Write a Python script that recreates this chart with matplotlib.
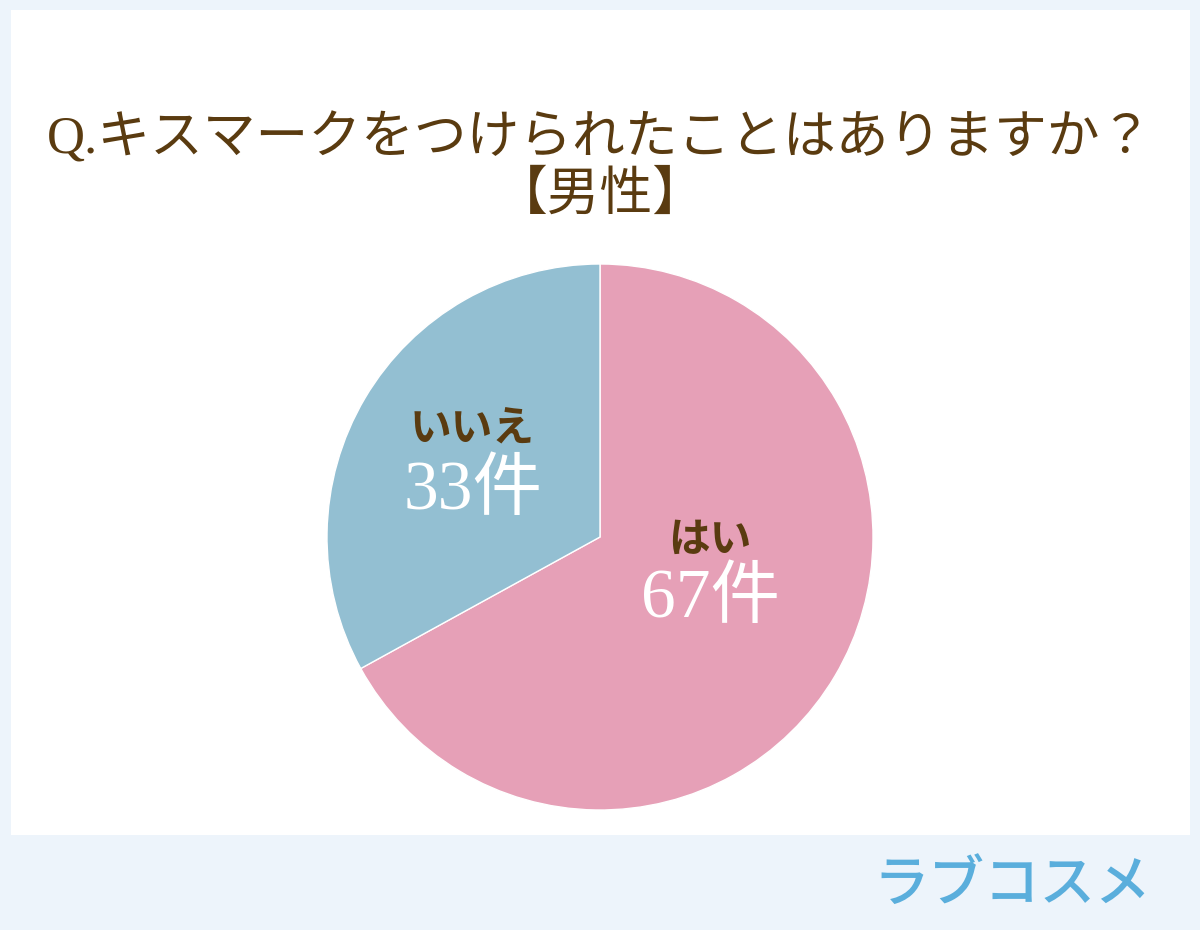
import matplotlib
matplotlib.use('Agg')
import matplotlib.pyplot as plt
from matplotlib.patches import Rectangle

# survey data
labels = ['はい', 'いいえ']
counts = [67, 33]
colors = ['#E6A0B7', '#93BFD2']
title = 'Q.キスマークをつけられたことはありますか？\n【男性】'

serif_jp = ['Liberation Serif', 'Noto Sans CJK JP']
brown = '#5A3B10'

fig = plt.figure(figsize=(12, 9.3), dpi=100)
fig.patch.set_facecolor('#EDF4FB')
fig.patches.append(Rectangle((11 / 1200, 1 - 835 / 930), 1179 / 1200, 825 / 930,
                             transform=fig.transFigure, facecolor='white',
                             edgecolor='none', zorder=-5))

fig.text(0.5, 1 - 167 / 930, title, ha='center', va='center', fontsize=38,
         color=brown, family=serif_jp, linespacing=1.2)

ax = fig.add_axes([(600 - 273) / 1200, (930 - 537 - 273) / 930, 546 / 1200, 546 / 930])
ax.set_zorder(2)
wedges, _ = ax.pie(counts, colors=colors, startangle=90, counterclock=False,
                   radius=1, wedgeprops=dict(edgecolor='white', linewidth=1))
ax.set_xlim(-1, 1)
ax.set_ylim(-1, 1)
ax.set_aspect('equal')
ax.axis('off')

# label positions (data coords inside each wedge)
label_pos = [(0.403, -0.011), (-0.469, 0.392)]
count_pos = [(0.403, -0.231), (-0.465, 0.165)]
for lab, c, lp, cp in zip(labels, counts, label_pos, count_pos):
    ax.text(lp[0], lp[1], lab, ha='center', va='center', fontsize=30,
            color=brown, family=['Noto Sans CJK JP'], weight='bold')
    ax.text(cp[0], cp[1], f'{c}件', ha='center', va='center', fontsize=50,
            color='white', family=serif_jp)

fig.text(1012 / 1200, 1 - 885 / 930, 'ラブコスメ', ha='center', va='center',
         fontsize=40, color='#5AAEDC', family=['Noto Sans CJK JP'], weight='medium')

fig.savefig('out.png', dpi=100, facecolor=fig.get_facecolor())
